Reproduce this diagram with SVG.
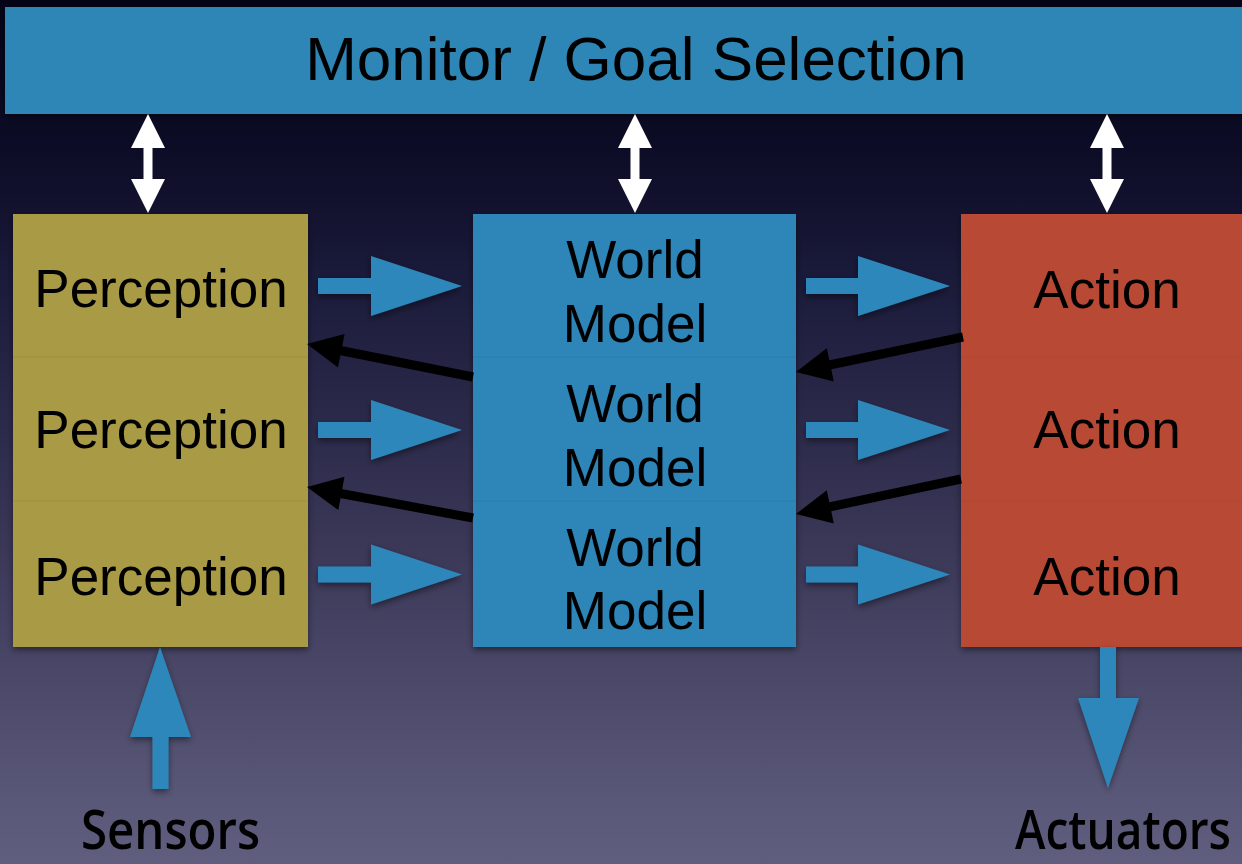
<svg xmlns="http://www.w3.org/2000/svg" width="1242" height="864" viewBox="0 0 1242 864">
  <defs>
    <linearGradient id="bg" x1="0" y1="0" x2="0" y2="1">
      <stop offset="0" stop-color="#040416"/>
      <stop offset="0.17" stop-color="#0c0c26"/>
      <stop offset="0.32" stop-color="#1a1a3a"/>
      <stop offset="0.63" stop-color="#3a3757"/>
      <stop offset="0.93" stop-color="#5a5878"/>
      <stop offset="1" stop-color="#605e7e"/>
    </linearGradient>
    <filter id="sh" x="-10%" y="-10%" width="120%" height="130%">
      <feDropShadow dx="0" dy="3" stdDeviation="3" flood-color="#000" flood-opacity="0.45"/>
    </filter>
    <style>
      .lbl { font-family: "Liberation Sans", Arial, sans-serif; fill: #000; text-anchor: middle; }
      .big { font-size: 62px; }
      .box { font-size: 53px; }
      .io { font-family: "Open Sans", "DejaVu Sans", sans-serif; font-weight: 600; font-size: 54px; fill: #000; }
      .blue { fill: #2e87ba; filter: url(#sh); }
      .white { fill: #ffffff; }
      .blk { fill: #000; }
      .blkline { stroke: #000; stroke-width: 9; fill: none; }
      .div { stroke: #000; stroke-opacity: 0.04; stroke-width: 1.5; }
    </style>
  </defs>

  <rect x="0" y="0" width="1242" height="864" fill="url(#bg)"/>

  <g id="monitor">
    <rect x="5" y="7" width="1245" height="107" fill="#2f86b6" filter="url(#sh)"/>
    <text class="lbl big" x="636" y="80">Monitor / Goal Selection</text>
  </g>

  <g id="perception">
    <rect x="13" y="214" width="295" height="433" fill="#a99a45" filter="url(#sh)"/>
    <line class="div" x1="13" y1="357" x2="308" y2="357"/>
    <line class="div" x1="13" y1="501" x2="308" y2="501"/>
    <text class="lbl box" x="161" y="307">Perception</text>
    <text class="lbl box" x="161" y="448">Perception</text>
    <text class="lbl box" x="161" y="595">Perception</text>
  </g>

  <g id="world-model">
    <rect x="473" y="214" width="323" height="433" fill="#2e85b7" filter="url(#sh)"/>
    <line class="div" x1="473" y1="357" x2="796" y2="357"/>
    <line class="div" x1="473" y1="501" x2="796" y2="501"/>
    <text class="lbl box" x="635" y="278">World</text>
    <text class="lbl box" x="635" y="342">Model</text>
    <text class="lbl box" x="635" y="422">World</text>
    <text class="lbl box" x="635" y="486">Model</text>
    <text class="lbl box" x="635" y="566">World</text>
    <text class="lbl box" x="635" y="629">Model</text>
  </g>

  <g id="action">
    <rect x="961" y="214" width="290" height="433" fill="#b84a35" filter="url(#sh)"/>
    <line class="div" x1="961" y1="357" x2="1242" y2="357"/>
    <line class="div" x1="961" y1="501" x2="1242" y2="501"/>
    <text class="lbl box" x="1107" y="308">Action</text>
    <text class="lbl box" x="1107" y="448">Action</text>
    <text class="lbl box" x="1107" y="595">Action</text>
  </g>

  <g id="sensors">
    <text class="io" x="81" y="849" textLength="179" lengthAdjust="spacingAndGlyphs">Sensors</text>
  </g>

  <g id="actuators">
    <text class="io" x="1231" y="849" text-anchor="end" font-size="51" textLength="216" lengthAdjust="spacingAndGlyphs">Actuators</text>
  </g>

  <g id="connectors">
    <!-- double arrows monitor <-> modules -->
    <g class="white">
      <path d="M148,114 L165,148 L152.5,148 L152.5,179 L165,179 L148,213 L131,179 L143.5,179 L143.5,148 L131,148 Z"/>
      <path d="M635,114 L652,148 L639.5,148 L639.5,179 L652,179 L635,213 L618,179 L630.5,179 L630.5,148 L618,148 Z"/>
      <path d="M1107,114 L1124,148 L1111.5,148 L1111.5,179 L1124,179 L1107,213 L1090,179 L1102.5,179 L1102.5,148 L1090,148 Z"/>
    </g>

    <!-- perception -> world model -->
    <path class="blue" d="M318,278 L371,278 L371,256 L462,286 L371,316 L371,294 L318,294 Z"/>
    <path class="blue" d="M318,422 L371,422 L371,400 L462,430 L371,460 L371,438 L318,438 Z"/>
    <path class="blue" d="M318,566.5 L371,566.5 L371,544.5 L462,574.5 L371,604.5 L371,582.5 L318,582.5 Z"/>

    <!-- world model -> action -->
    <path class="blue" d="M806,278 L858,278 L858,256 L950,286 L858,316 L858,294 L806,294 Z"/>
    <path class="blue" d="M806,422 L858,422 L858,400 L950,430 L858,460 L858,438 L806,438 Z"/>
    <path class="blue" d="M806,566.5 L858,566.5 L858,544.5 L950,574.5 L858,604.5 L858,582.5 L806,582.5 Z"/>

    <!-- world model -> perception (black) -->
    <line class="blkline" x1="473" y1="377" x2="338" y2="350"/>
    <polygon class="blk" points="307,344 344.6,334.1 338,367.5"/>
    <line class="blkline" x1="473" y1="518" x2="338" y2="493"/>
    <polygon class="blk" points="307,487 344.5,476.7 338.3,510.1"/>

    <!-- action -> world model (black) -->
    <line class="blkline" x1="963" y1="337" x2="827" y2="365.5"/>
    <polygon class="blk" points="796,372 826.8,348.2 833.8,381.4"/>
    <line class="blkline" x1="961" y1="479" x2="827" y2="507.5"/>
    <polygon class="blk" points="796,514 826.8,490.2 833.8,523.4"/>

    <!-- sensors -> perception -->
    <path class="blue" d="M160,647 L191,737 L168.5,737 L168.5,789 L152.5,789 L152.5,737 L130,737 Z"/>
    <!-- action -> actuators -->
    <path class="blue" d="M1100,647 L1116,647 L1116,698 L1139,698 L1108,788 L1078,698 L1100,698 Z"/>
  </g>
</svg>
